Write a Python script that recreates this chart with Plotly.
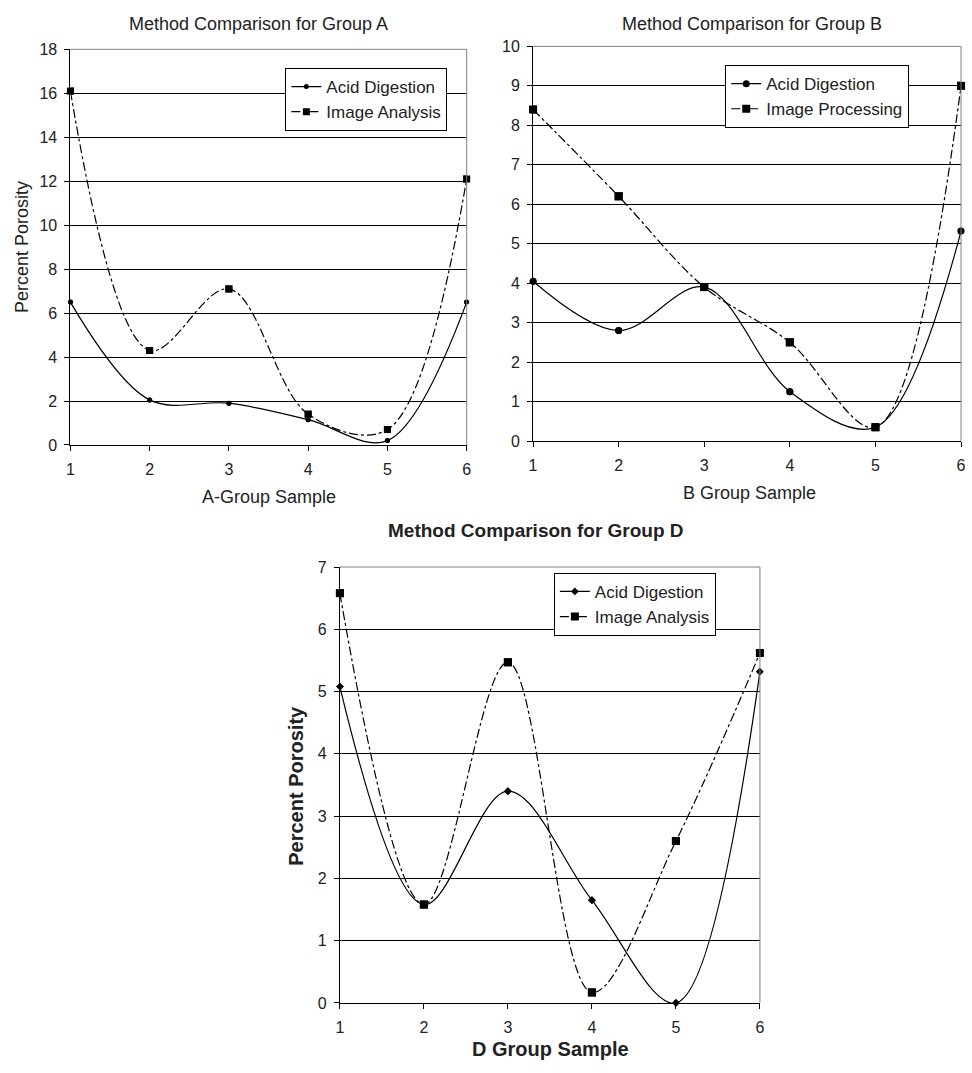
import plotly.graph_objects as go

W, H = 972, 1073

samples = [1, 2, 3, 4, 5, 6]

a_acid = [6.5, 2.05, 1.9, 1.15, 0.2, 6.5]
a_image = [16.1, 4.3, 7.1, 1.4, 0.7, 12.1]

b_acid = [4.05, 2.8, 3.9, 1.25, 0.35, 5.32]
b_image = [8.4, 6.2, 3.9, 2.5, 0.35, 9.0]

d_acid = [5.08, 1.58, 3.4, 1.65, 0.0, 5.32]
d_image = [6.58, 1.58, 5.47, 0.17, 2.6, 5.62]

FONT = "Liberation Sans, Arial, sans-serif"
TXT = "#222222"

def px_x(p):
    return p / W

def px_y(p):
    return 1 - p / H

fig = go.Figure()

panels = [
    dict(ax="", acid=a_acid, img=a_image, img_name="Image Analysis", asym="circle", asz=5, isz=7,
         x0=67, x1=467, y0=42, y1=444, ymax=18, dtick=2, leg="legend", lx=284, ly=61),
    dict(ax="2", acid=b_acid, img=b_image, img_name="Image Processing", asym="circle", asz=7, isz=8,
         x0=534, x1=966, y0=39, y1=440, ymax=10, dtick=1, leg="legend2", lx=728, ly=58),
    dict(ax="3", acid=d_acid, img=d_image, img_name="Image Analysis", asym="diamond", asz=6, isz=8,
         x0=339, x1=763, y0=568, y1=1011, ymax=7, dtick=1, leg="legend3", lx=555, ly=574),
]

layout = dict(
    width=W, height=H, margin=dict(l=0, r=0, t=0, b=0),
    paper_bgcolor="white", plot_bgcolor="white",
    font=dict(family=FONT, color=TXT, size=15),
    showlegend=True,
)
shapes = []
annotations = []

for p in panels:
    ax = p["ax"]
    xa = "x" + ax
    ya = "y" + ax
    fig.add_trace(go.Scatter(
        x=samples, y=p["acid"], name="Acid Digestion", mode="lines+markers",
        line=dict(color="black", width=1.2, shape="spline", smoothing=1.0),
        marker=dict(symbol=p["asym"], size=p["asz"], color="black"),
        xaxis=xa, yaxis=ya, legend=p["leg"], cliponaxis=True,
    ))
    fig.add_trace(go.Scatter(
        x=samples, y=p["img"], name=p["img_name"], mode="lines+markers",
        line=dict(color="black", width=1.2, shape="spline", smoothing=1.0, dash="dashdot"),
        marker=dict(symbol="square", size=p["isz"], color="black"),
        xaxis=xa, yaxis=ya, legend=p["leg"], cliponaxis=True,
    ))
    fig.add_trace(go.Scatter(
        x=samples, y=p["acid"], mode="markers", showlegend=False, hoverinfo="skip",
        marker=dict(symbol=p["asym"], size=p["asz"], color="black"),
        xaxis=xa, yaxis=ya, cliponaxis=False,
    ))
    fig.add_trace(go.Scatter(
        x=samples, y=p["img"], mode="markers", showlegend=False, hoverinfo="skip",
        marker=dict(symbol="square", size=p["isz"], color="black"),
        xaxis=xa, yaxis=ya, cliponaxis=False,
    ))

    xkey = "xaxis" + ax
    ykey = "yaxis" + ax
    layout[xkey] = dict(
        domain=[px_x(p["x0"]), px_x(p["x1"])], anchor=ya, range=[1, 6],
        tickvals=samples, ticks="outside", ticklen=5, tickcolor="black",
        showline=True, linecolor="black", linewidth=1, showgrid=False, zeroline=False,
        tickfont=dict(size=16, color=TXT), fixedrange=True, ticklabelstandoff=5,
    )
    layout[ykey] = dict(
        domain=[px_y(p["y1"]), px_y(p["y0"])], anchor=xa, range=[0, p["ymax"]],
        dtick=p["dtick"], tick0=0, ticks="outside", ticklen=5, tickcolor="black",
        showline=True, linecolor="black", linewidth=1, showgrid=True, gridcolor="black",
        gridwidth=1, zeroline=False, tickfont=dict(size=16, color=TXT), fixedrange=True,
        ticklabelstandoff=4,
    )
    layout[p["leg"]] = dict(
        x=px_x(p["lx"]), y=px_y(p["ly"]), xanchor="left", yanchor="top",
        bgcolor="white", bordercolor="black", borderwidth=1,
        font=dict(size=17, color=TXT, family=FONT), tracegroupgap=0,
        itemwidth=30,
    )
    shapes.append(dict(type="line", xref="paper", yref="paper",
                       x0=px_x(p["x1"]), x1=px_x(p["x1"]), y0=px_y(p["y1"]), y1=px_y(p["y0"]),
                       line=dict(color="#808080", width=1), layer="above"))
    shapes.append(dict(type="line", xref="paper", yref="paper",
                       x0=px_x(p["x0"]), x1=px_x(p["x1"]), y0=px_y(p["y0"]), y1=px_y(p["y0"]),
                       line=dict(color="#808080", width=1), layer="below"))

def ann(text, x, y, size=14, bold=False, angle=0):
    t = f"<b>{text}</b>" if bold else text
    annotations.append(dict(text=t, x=px_x(x), y=px_y(y), xref="paper", yref="paper",
                            showarrow=False, xanchor="center", yanchor="middle",
                            textangle=angle, font=dict(size=size, color=TXT, family=FONT)))

ann("Method Comparison for Group A", 257, 16, 18)
ann("A-Group Sample", 267, 497, 18)
ann("Percent Porosity", 18, 243, 18, angle=-90)
ann("Method Comparison for Group B", 755, 16, 18)
ann("B Group Sample", 752, 493, 18)
ann("Method Comparison for Group D", 537, 531, 19, bold=True)
ann("Percent Porosity", 295, 790, 20, bold=True, angle=-90)
ann("D Group Sample", 552, 1058, 20, bold=True)

layout["shapes"] = shapes
layout["annotations"] = annotations
fig.update_layout(**layout)

fig.write_html("out.html")
